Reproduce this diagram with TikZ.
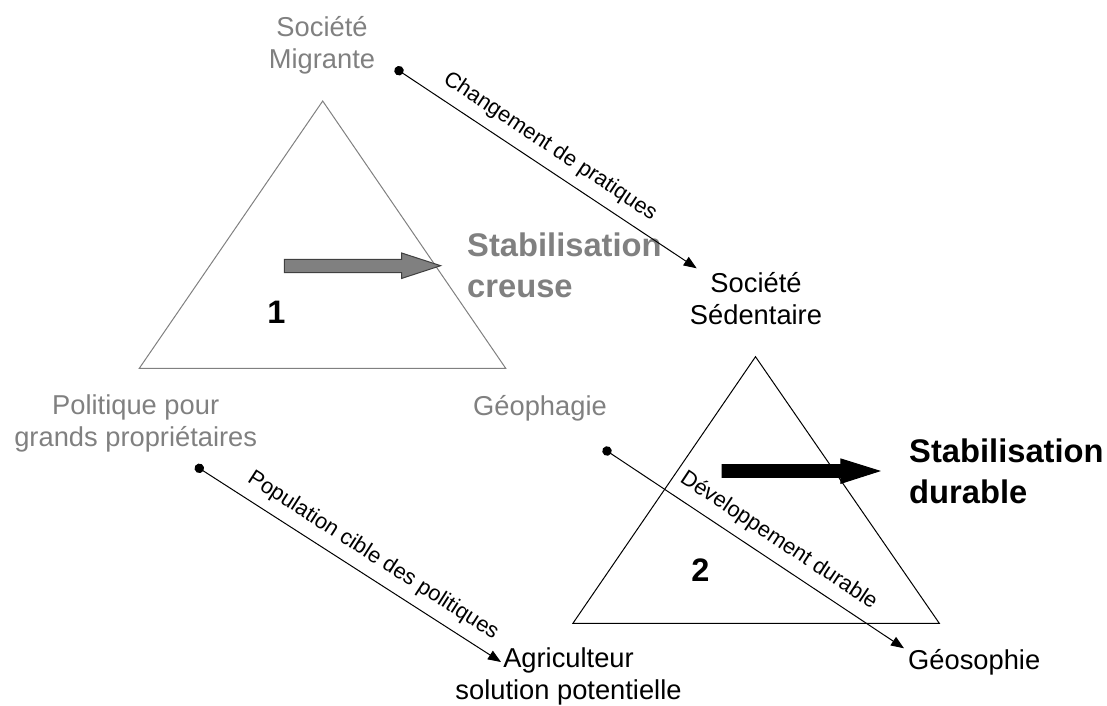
\documentclass[tikz,border=0pt]{standalone}
\usepackage{fontspec}
\setmainfont{Liberation Sans}
\usepackage{tikz}
\usetikzlibrary{arrows.meta,positioning,calc}
\definecolor{softgray}{HTML}{808080}
\definecolor{edgegray}{HTML}{404040}
\tikzset{
  term/.style={inner sep=0pt, align=center, font=\fontsize{27.3}{32}\selectfont},
  faded/.style={term, text=softgray},
  verdict/.style={inner sep=0pt, align=left, font=\bfseries\fontsize{32.7}{40.5}\selectfont},
  numeral/.style={inner sep=0pt, font=\bfseries\fontsize{32.5}{36}\selectfont},
  link/.style={{Circle[length=9.5pt]}-{Triangle[length=13pt,width=10pt]}, line width=1pt, shorten <=-4.75pt},
  linktext/.style={sloped, above, inner sep=9.5pt, font=\fontsize{21.8}{25}\selectfont},
  outline/.style={line width=1pt},
  blockarrow/.style={line width=1pt, line join=miter},
}

\begin{document}
\begin{tikzpicture}[x=1pt, y=-1pt]
  \useasboundingbox (0,0) rectangle (1107,705);

  % Triangles
  \draw[outline, softgray] (322.7,101) -- (505.7,368.3) -- (139.3,368.3) -- cycle;
  \draw[outline] (755.5,356.7) -- (939.3,623.3) -- (572.9,623.3) -- cycle;

  % Nodes
  \node[faded, anchor=north] (migrante) at (322,16.5) {Société\\Migrante};
  \node[faded, anchor=north] (politique) at (135.7,394.8) {Politique pour\\grands propriétaires};
  \node[faded, anchor=base] (geophagie) at (540,415) {Géophagie};
  \node[term, anchor=north] (sedentaire) at (756,272.5) {Société\\Sédentaire};
  \node[term, anchor=north] (agriculteur) at (568.5,647.8) {Agriculteur\\solution potentielle};
  \node[term, anchor=base west] (geosophie) at (908,669.3) {Géosophie};
  \node[verdict, text=softgray, anchor=north west] (creuse) at (467,232.8) {Stabilisation\\creuse};
  \node[verdict, anchor=north west] (durable) at (909,438.8) {Stabilisation\\durable};
  \node[numeral, anchor=base] (one) at (276.3,323.3) {1};
  \node[numeral, anchor=base] (two) at (700.5,581.7) {2};

  % Block arrows
  \draw[blockarrow, draw=edgegray, fill=softgray] (284.3,259.3) -- (401.7,259.3) -- (401.7,253) -- (440.7,265.7)
    -- (401.7,278.4) -- (401.7,272.7) -- (284.3,272.7) -- cycle;
  \draw[blockarrow, fill=black] (722.2,464.7) -- (840.9,464.7) -- (840.9,459) -- (879.3,471)
    -- (840.9,483.3) -- (840.9,477.3) -- (722.2,477.3) -- cycle;

  % Links
  \coordinate (migrante-dot) at (399,70.7);
  \coordinate (sedentaire-tip) at (696.7,268.3);
  \coordinate (politique-dot) at (199.3,468.3);
  \coordinate (agriculteur-tip) at (501,662);
  \coordinate (geophagie-dot) at (607,451);
  \coordinate (geosophie-tip) at (904,648.3);
  \draw[link] (migrante-dot) -- node[linktext, pos=0.47] {Changement de pratiques} (sedentaire-tip);
  \draw[link] (politique-dot) -- node[linktext, pos=0.54] {Population cible des politiques} (agriculteur-tip);
  \draw[link] (geophagie-dot) -- node[linktext, pos=0.54] {Développement durable} (geosophie-tip);
\end{tikzpicture}
\end{document}
